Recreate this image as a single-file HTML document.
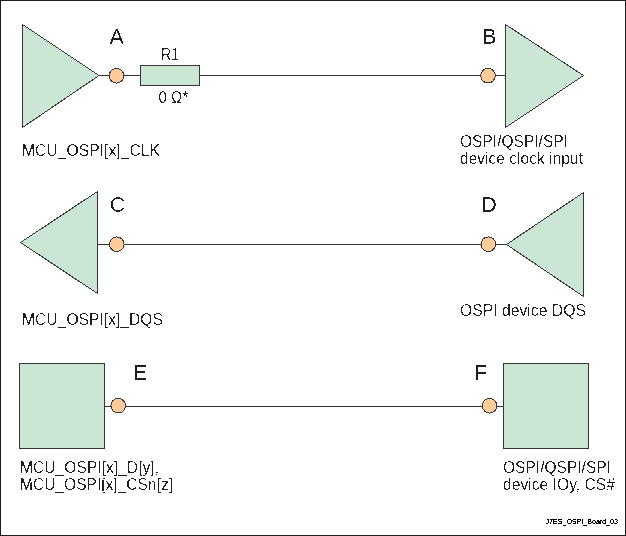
<!DOCTYPE html>
<html><head><meta charset="utf-8">
<style>
html,body{margin:0;padding:0;background:#fff;width:626px;height:536px;overflow:hidden}
svg{display:block;will-change:transform}
text{font-family:"Liberation Sans",sans-serif;fill:#1e1e1e}
.t{font-size:16.5px}
.big{font-size:21.5px}
</style></head><body>
<svg width="626" height="536" viewBox="0 0 626 536">
<defs>
<filter id="c67" x="0" y="0" width="626" height="536" filterUnits="userSpaceOnUse" color-interpolation-filters="sRGB">
<feComponentTransfer in="SourceAlpha" result="A"><feFuncA type="discrete" tableValues="0 0 1"/></feComponentTransfer>
<feComponentTransfer in="SourceAlpha" result="B"><feFuncA type="discrete" tableValues="0 1"/></feComponentTransfer>
<feMorphology in="A" operator="dilate" radius="1" result="D"/>
<feComposite in="B" in2="D" operator="out" result="N"/>
<feOffset in="A" dx="0" dy="1" result="oU0"/>
<feOffset in="A" dx="0" dy="-1" result="oD0"/>
<feOffset in="A" dx="1" dy="0" result="oL0"/>
<feOffset in="A" dx="-1" dy="0" result="oR0"/>
<feOffset in="A" dx="1" dy="1" result="oUL"/>
<feOffset in="A" dx="-1" dy="1" result="oUR"/>
<feOffset in="A" dx="1" dy="-1" result="oDL"/>
<feOffset in="A" dx="-1" dy="-1" result="oDR"/>
<feComposite in="oUL" in2="oDR" operator="in" result="pULDR"/>
<feComposite in="oU0" in2="oD0" operator="in" result="pU0D0"/>
<feComposite in="oUR" in2="oDL" operator="in" result="pURDL"/>
<feComposite in="oL0" in2="oR0" operator="in" result="pL0R0"/>
<feComposite in="oU0" in2="oDL" operator="in" result="pU0DL"/>
<feComposite in="oU0" in2="oDR" operator="in" result="pU0DR"/>
<feComposite in="oUL" in2="oD0" operator="in" result="pULD0"/>
<feComposite in="oUR" in2="oD0" operator="in" result="pURD0"/>
<feMerge result="VH"><feMergeNode in="pU0D0"/><feMergeNode in="pL0R0"/><feMergeNode in="pULDR"/><feMergeNode in="pURDL"/><feMergeNode in="pU0DL"/><feMergeNode in="pU0DR"/><feMergeNode in="pULD0"/><feMergeNode in="pURD0"/></feMerge>
<feComposite in="B" in2="VH" operator="in" result="G"/>
<feMerge result="R0"><feMergeNode in="A"/><feMergeNode in="N"/><feMergeNode in="G"/></feMerge>
<feComponentTransfer in="R0" result="R"><feFuncA type="discrete" tableValues="0 1"/></feComponentTransfer>
<feFlood flood-color="#1e1e1e"/>
<feComposite in2="R" operator="in"/>
</filter>
<filter id="c50" x="0" y="0" width="626" height="536" filterUnits="userSpaceOnUse"><feComponentTransfer><feFuncA type="discrete" tableValues="0 1"/></feComponentTransfer></filter>
<filter id="c33" x="0" y="0" width="626" height="536" filterUnits="userSpaceOnUse"><feComponentTransfer><feFuncA type="discrete" tableValues="0 1 1"/></feComponentTransfer></filter>
</defs>
<rect x="0.5" y="0.5" width="625" height="535" fill="#fff" stroke="#1e1c1e" stroke-width="1" shape-rendering="crispEdges"/>
<g stroke="#353235" stroke-width="1" fill="none" shape-rendering="crispEdges">
<line x1="99" y1="75.5" x2="505" y2="75.5"/>
<line x1="97" y1="244.5" x2="507" y2="244.5"/>
<line x1="104" y1="406.5" x2="503" y2="406.5"/>
</g>
<g stroke="#383538" stroke-width="1" fill="#cbe6d5" shape-rendering="crispEdges">
<polygon points="22.5,24.5 22.5,127.5 99,75.5"/>
<polygon points="505.5,24.5 505.5,127.5 583.5,75.5"/>
<polygon points="20.5,242.5 97.5,191.5 97.5,293.5"/>
<polygon points="506.5,244.5 583.5,192.5 583.5,296.5"/>
<rect x="140.5" y="65.5" width="59" height="20" shape-rendering="crispEdges"/>
<rect x="19.5" y="363.5" width="85" height="85" shape-rendering="crispEdges"/>
<rect x="503.5" y="363.5" width="85" height="85" shape-rendering="crispEdges"/>
</g>
<g stroke="#383538" stroke-width="1" fill="#ffcc99" shape-rendering="crispEdges">
<circle cx="116.5" cy="75.8" r="7.3"/>
<circle cx="488" cy="75.7" r="7.3"/>
<circle cx="116.8" cy="244.2" r="7.3"/>
<circle cx="488.3" cy="244.2" r="7.3"/>
<circle cx="118.2" cy="405.7" r="7.3"/>
<circle cx="489.6" cy="405.8" r="7.3"/>
</g>
<g filter="url(#c67)">
<text class="big" x="109.5" y="44">A</text>
<text class="big" x="109.75" y="211.5">C</text>
<text class="t" x="161" y="60" textLength="18" lengthAdjust="spacingAndGlyphs">R1</text>
<text class="t" x="22" y="156" textLength="138" lengthAdjust="spacingAndGlyphs">MCU_OSPI[x]_CLK</text>
<text class="t" x="460" y="147" textLength="108" lengthAdjust="spacingAndGlyphs">OSPI/QSPI/SPI</text>
<text class="t" x="460" y="163.5" textLength="123" lengthAdjust="spacingAndGlyphs">device clock input</text>
<text class="t" x="22" y="325" textLength="141" lengthAdjust="spacingAndGlyphs">MCU_OSPI[x]_DQS</text>
<text class="t" x="460" y="316" textLength="126" lengthAdjust="spacingAndGlyphs">OSPI device DQS</text>
<text class="t" x="20" y="473" textLength="139" lengthAdjust="spacingAndGlyphs">MCU_OSPI[x]_D[y],</text>
<text class="t" x="20" y="490" textLength="153" lengthAdjust="spacingAndGlyphs">MCU_OSPI[x]_CSn[z]</text>
<text class="t" x="503" y="473" textLength="108" lengthAdjust="spacingAndGlyphs">OSPI/QSPI/SPI</text>
<text class="t" x="503" y="490" textLength="112" lengthAdjust="spacingAndGlyphs">device IOy, CS#</text>
<text class="big" x="482.25" y="44">B</text>
<text class="big" x="481.25" y="211.5">D</text>
<text class="big" x="133.25" y="380">E</text>
<text class="big" x="474.25" y="380">F</text>
<text class="t" x="158.5" y="102.5" textLength="23.6" lengthAdjust="spacingAndGlyphs">0 Ω</text>
</g>
<g filter="url(#c50)">
<text class="t" x="182.3" y="102.5">*</text>
</g>
<g filter="url(#c33)">
<text x="545.5" y="524" style="font-size:7px;fill:#000" textLength="72.5" lengthAdjust="spacingAndGlyphs">J7ES_OSPI_Board_03</text>
</g>
</svg>
</body></html>
